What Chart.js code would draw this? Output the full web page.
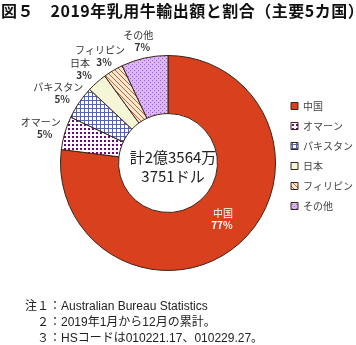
<!DOCTYPE html>
<html>
<head>
<meta charset="utf-8">
<script src="https://cdn.jsdelivr.net/npm/chart.js@4"></script>
<style>
  html, body { margin: 0; padding: 0; background: #fff; }
  body { width: 356px; height: 345px; position: relative; overflow: hidden; font-family: 'Noto Sans CJK JP', sans-serif; }
  #wrap { position: absolute; left: 0; top: 0; width: 356px; height: 345px; }
  #title { position: absolute; left: 1px; top: 0px; font-size: 16px; letter-spacing: 0.5px; font-weight: bold; color: #111; line-height: 20px; white-space: nowrap; }
  #notes { position: absolute; left: 25px; top: 298px; font-size: 12px; color: #222; line-height: 16px; white-space: pre; font-family: 'Liberation Sans', 'Noto Sans CJK JP', sans-serif; }
</style>
</head>
<body>
<div id="wrap"><canvas id="c" width="356" height="345"></canvas></div>
<div id="title"></div>
<div id="notes"></div>
<script>
// ---- data ----
const categories = ['中国', 'オマーン', 'パキスタン', '日本', 'フィリピン', 'その他'];
const shares = [77, 5, 5, 3, 3, 7];
const totalText = ['計2億3564万', '3751ドル'];
const chartTitle = '図５　2019年乳用牛輸出額と割合（主要5カ国）';
const notes = [
  '注１：Australian Bureau Statistics',
  '　２：2019年1月から12月の累計。',
  '　３：HSコードは010221.17、010229.27。'
];

document.getElementById('title').textContent = chartTitle;
document.getElementById('notes').textContent = notes.join('\n');

// ---- patterns ----
function makePattern(size, draw) {
  const c = document.createElement('canvas');
  c.width = size; c.height = size;
  const g = c.getContext('2d');
  draw(g, size);
  return document.getElementById('c').getContext('2d').createPattern(c, 'repeat');
}
const pOman = makePattern(4, (g) => {
  g.fillStyle = '#ffffff'; g.fillRect(0, 0, 4, 4);
  g.fillStyle = '#6a0a78'; g.fillRect(0, 0, 2, 2);
});
const pPak = makePattern(4, (g) => {
  g.fillStyle = '#ffffff'; g.fillRect(0, 0, 4, 4);
  g.fillStyle = '#5565a8'; g.fillRect(0, 0, 4, 1); g.fillRect(0, 0, 1, 4);
});
const pPhil = makePattern(5, (g) => {
  g.fillStyle = '#fbe6cf'; g.fillRect(0, 0, 5, 5);
  g.fillStyle = '#b06a3a';
  for (let i = 0; i < 5; i++) { g.fillRect(i, i, 1, 1); }
});
const pOther = makePattern(4, (g) => {
  g.fillStyle = '#dcb8f2'; g.fillRect(0, 0, 4, 4);
  g.fillStyle = '#9a60c0'; g.fillRect(0, 0, 1, 1); g.fillRect(2, 2, 1, 1);
});
const colors = ['#d9411e', pOman, pPak, '#f5f5d8', pPhil, pOther];

const FONT = "'Noto Sans CJK JP', sans-serif";

const labelPlugin = {
  id: 'sliceLabels',
  afterDatasetsDraw(chart) {
    const ctx = chart.ctx;
    const meta = chart.getDatasetMeta(0);
    ctx.save();
    meta.data.forEach((arc, i) => {
      const mid = (arc.startAngle + arc.endAngle) / 2;
      const pct = shares[i] + '%';
      if (i === 0) {
        const p = arc.getCenterPoint();
        ctx.fillStyle = '#ffffff';
        ctx.textAlign = 'center';
        ctx.textBaseline = 'middle';
        ctx.font = '10px ' + FONT;
        ctx.fillText(categories[i], p.x + 3, p.y - 9);
        ctx.font = 'bold 10px ' + FONT;
        ctx.fillText(pct, p.x + 2, p.y + 3);
      } else {
        const R = arc.outerRadius;
        const x = arc.x + (R + 24) * Math.cos(mid);
        const y = arc.y + (R + 17) * Math.sin(mid);
        ctx.fillStyle = '#333';
        ctx.textAlign = 'center';
        ctx.textBaseline = 'middle';
        ctx.font = '10px ' + FONT;
        ctx.fillText(categories[i], x - 1, y - 6);
        ctx.font = 'bold 10px ' + FONT;
        ctx.fillText(pct, x + 3, y + 6);
      }
    });
    // center total
    const a = meta.data[0];
    ctx.fillStyle = '#222';
    ctx.textAlign = 'center';
    ctx.textBaseline = 'middle';
    ctx.font = '15px ' + FONT;
    ctx.fillText(totalText[0], a.x + 5, a.y - 6);
    ctx.fillText(totalText[1], a.x + 5, a.y + 13);
    ctx.restore();
  }
};

new Chart(document.getElementById('c'), {
  type: 'doughnut',
  data: {
    labels: categories,
    datasets: [{
      data: shares,
      backgroundColor: colors,
      borderColor: '#3a2418',
      borderWidth: 1,
      hoverOffset: 0,
      hoverBorderWidth: 1
    }]
  },
  options: {
    responsive: false,
    animation: false,
    cutout: '46%',
    layout: { padding: { top: 55, bottom: 74, left: 55, right: 3 } },
    plugins: {
      title: { display: false },
      tooltip: { enabled: false },
      legend: {
        position: 'right',
        align: 'start',
        maxWidth: 72,
        title: { display: true, text: ' ', font: { size: 10 }, padding: { top: 24, bottom: 0 } },
        labels: {
          boxWidth: 7,
          boxHeight: 7,
          padding: 10,
          color: '#444',
          font: { size: 10, family: FONT }
        }
      }
    }
  },
  plugins: [labelPlugin]
});
</script>
</body>
</html>
